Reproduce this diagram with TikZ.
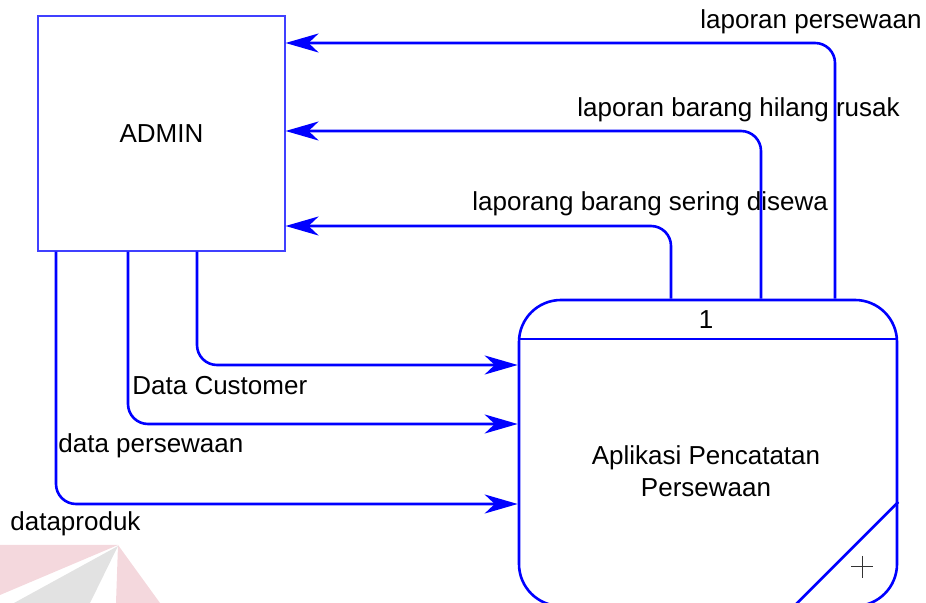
\documentclass[tikz,border=0pt]{standalone}
\usepackage{fontspec}
\setmainfont{Liberation Sans}
\usetikzlibrary{arrows.meta,positioning,calc}

\definecolor{dfdblue}{RGB}{0,0,255}
\definecolor{wmpink}{RGB}{244,216,221}
\definecolor{wmgrey}{RGB}{226,226,226}

\begin{document}
\begin{tikzpicture}[x=0.5pt,y=-0.5pt,
  font=\fontsize{13}{15.8}\selectfont,
  entity/.style={draw=dfdblue!75,line width=0.55pt,minimum width=123.5pt,minimum height=117.5pt},
  process/.style={draw=dfdblue,line width=1.3pt,rounded corners=21pt,minimum width=189pt,minimum height=153pt},
  flow/.style={draw=dfdblue,line width=1.3pt,rounded corners=10pt,-{Stealth[length=16.5pt,width=9.5pt,inset=5pt]}},
  flowlabel/.style={anchor=west,inner sep=0pt}]
  \useasboundingbox (0,0) rectangle (926,603);

  % watermark
  \fill[wmpink] (0,545) -- (118,545) -- (0,595) -- cycle;
  \fill[wmpink] (118,545) -- (160,603) -- (116,603) -- cycle;
  \fill[wmgrey] (118,546) -- (90,603) -- (14,603) -- cycle;

  \node[entity] (admin) at (161.5,133.5) {ADMIN};
  \node[process] (proc) at (708,453) {};
  \node (procid) at (706,320) {1};
  \node[align=center] (procname) at (706,471) {Aplikasi Pencatatan\\Persewaan};
  \draw[dfdblue,line width=1.3pt] (proc.west |- 0,339) -- (proc.east |- 0,339);
  \draw[dfdblue,line width=1.3pt] (proc.east |- 0,502) -- ++(-106,106);
  \draw[black!80,line width=0.5pt] (851,567) -- (873,567) (862,556) -- (862,578);

  % data to the process
  \draw[flow] (admin.south -| 197,0) |- (proc.west |- 0,365);
  \draw[flow] (admin.south -| 128,0) |- (proc.west |- 0,424);
  \draw[flow] (admin.south -| 56,0) |- (proc.west |- 0,504);

  % reports to admin
  \draw[flow] (proc.north -| 671,0) |- (admin.east |- 0,226);
  \draw[flow] (proc.north -| 761,0) |- (admin.east |- 0,131);
  \draw[flow] (proc.north -| 835,0) |- (admin.east |- 0,43);

  \node[flowlabel] (lcust) at (132,386) {Data Customer};
  \node[flowlabel] (lsewa) at (58,446) {data persewaan};
  \node[flowlabel] (lproduk) at (10,524) {dataproduk};
  \node[flowlabel] (lsering) at (472,204) {laporang barang sering disewa};
  \node[flowlabel] (lrusak) at (577,110) {laporan barang hilang rusak};
  \node[flowlabel] (llapsewa) at (700,22) {laporan persewaan};
\end{tikzpicture}
\end{document}
